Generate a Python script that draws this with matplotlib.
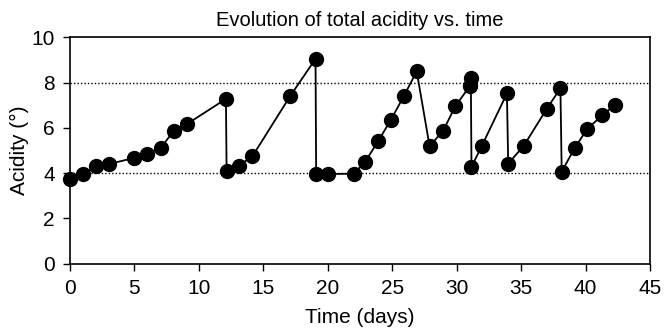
"""Evolution of total acidity vs. time - recreated chart."""

import matplotlib
matplotlib.use('Agg')
from matplotlib import pyplot as plt

days = [0.0, 1.0, 2.0, 3.0, 5.0, 6.0, 7.05, 8.05, 9.05, 12.1, 12.15, 13.1, 14.15,
        17.1, 19.05, 19.1, 20.0, 22.0, 22.9, 23.9, 24.9, 25.9, 26.9, 27.9, 28.95,
        29.9, 31.0, 31.1, 31.15, 31.95, 33.9, 34.0, 35.2, 37.0, 38.05, 38.15,
        39.15, 40.15, 41.3, 42.3]
acidity = [3.75, 3.95, 4.3, 4.4, 4.67, 4.84, 5.12, 5.87, 6.16, 7.28, 4.1, 4.33, 4.74,
           7.42, 9.05, 3.96, 3.96, 3.97, 4.5, 5.4, 6.36, 7.4, 8.5, 5.19, 5.87,
           6.96, 7.83, 8.22, 4.27, 5.2, 7.52, 4.42, 5.2, 6.85, 7.75, 4.06,
           5.1, 5.97, 6.55, 7.03]

x_ticks = [0, 5, 10, 15, 20, 25, 30, 35, 40, 45]
y_ticks = [0, 2, 4, 6, 8, 10]
ref_levels = [4, 8]


def main():
    plt.rcParams['font.family'] = ['Liberation Sans', 'DejaVu Sans']

    fig = plt.figure(figsize=(6.64, 3.34), dpi=100)
    ax = fig.add_axes([0.1054, 0.211, 0.8735, 0.677])

    # Dotted reference lines at 4 and 8
    for lvl in ref_levels:
        ax.axhline(lvl, color='black', linestyle=(0, (1, 1.5)), linewidth=1.0, zorder=1)

    ax.plot(days, acidity, color='black', linewidth=1.3, marker='o',
            markersize=10, markerfacecolor='black', markeredgecolor='black',
            zorder=3, clip_on=False)

    ax.set_xlim(0, 45)
    ax.set_ylim(0, 10)
    ax.set_xticks(x_ticks)
    ax.set_yticks(y_ticks)
    ax.tick_params(direction='out', length=5, width=1.0, labelsize=15,
                   colors='black', pad=6)
    for side in ['left', 'bottom', 'top', 'right']:
        ax.spines[side].set_linewidth(1.2)

    ax.set_title('Evolution of total acidity vs. time', fontsize=14.5, pad=8)
    ax.set_xlabel('Time (days)', fontsize=15, labelpad=7)
    ax.set_ylabel('Acidity (°)', fontsize=15, labelpad=2)

    fig.savefig('out.png', dpi=100)


if __name__ == '__main__':
    main()
